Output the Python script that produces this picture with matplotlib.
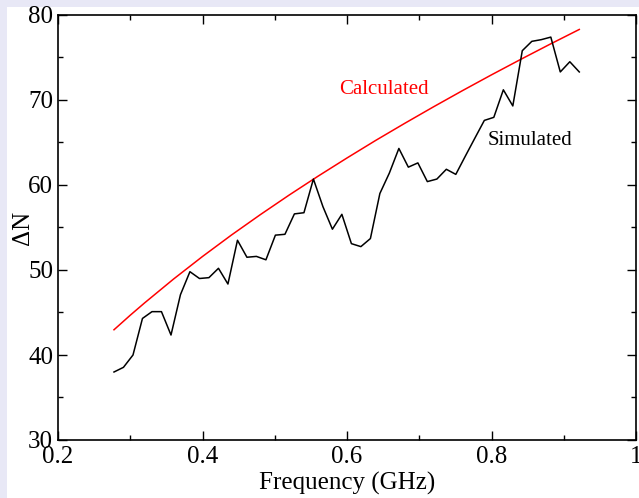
import matplotlib
matplotlib.use("Agg")
import matplotlib.pyplot as plt
from matplotlib.patches import Rectangle
from matplotlib.ticker import MultipleLocator

sim_freq = [0.2775, 0.2906, 0.3038, 0.3169, 0.3301, 0.3432, 0.3564, 0.3695, 0.3826, 0.3958,
            0.4089, 0.4221, 0.4352, 0.4484, 0.4615, 0.4746, 0.4878, 0.5009, 0.5141, 0.5272,
            0.5404, 0.5535, 0.5667, 0.5798, 0.5929, 0.6061, 0.6192, 0.6324, 0.6455, 0.6586,
            0.6718, 0.6849, 0.6981, 0.7112, 0.7244, 0.7375, 0.7506, 0.7638, 0.7769, 0.7901,
            0.8032, 0.8164, 0.8295, 0.8426, 0.8558, 0.8689, 0.8821, 0.8952, 0.9084, 0.9215]
sim_dn = [38.0, 38.55, 40.0, 44.3, 45.1, 45.1, 42.35, 47.1, 49.8, 49.0,
          49.1, 50.2, 48.35, 53.5, 51.5, 51.6, 51.2, 54.1, 54.2, 56.6,
          56.74, 60.7, 57.45, 54.8, 56.55, 53.1, 52.75, 53.7, 59.0, 61.4,
          64.3, 62.1, 62.6, 60.4, 60.7, 61.85, 61.25, 63.4, 65.5, 67.6,
          67.96, 71.2, 69.3, 75.8, 76.9, 77.1, 77.4, 73.3, 74.5, 73.3]

calc_freq = [0.2775, 0.30, 0.32, 0.36, 0.40, 0.44, 0.48, 0.52, 0.56, 0.60,
             0.64, 0.68, 0.72, 0.76, 0.80, 0.84, 0.88, 0.9215]
calc_dn = [42.97, 44.68, 46.14, 48.94, 51.59, 54.11, 56.51, 58.82, 61.04, 63.18,
           65.26, 67.26, 69.21, 71.11, 72.96, 74.76, 76.52, 78.30]

x_ticks = [0.2, 0.4, 0.6, 0.8, 1.0]
x_tick_labels = ["0.2", "0.4", "0.6", "0.8", "1"]
y_ticks = [30, 40, 50, 60, 70, 80]

plt.rcParams['font.family'] = ['Liberation Serif', 'DejaVu Serif']

fig = plt.figure(figsize=(6.39, 4.98), dpi=100)
fig.patch.set_facecolor('#e8e8f6')
fig.patches.append(Rectangle((7 / 639, 0), 1, 1 - 7 / 498, transform=fig.transFigure,
                             facecolor='white', edgecolor='none', zorder=-10))

ax = fig.add_axes([58 / 639, 1 - 440 / 498, 578 / 639, 425 / 498])
ax.set_facecolor('white')

ax.plot(calc_freq, calc_dn, color='#ff0000', lw=1.1)
ax.plot(sim_freq, sim_dn, color='black', lw=1.1)

ax.set_xlim(0.2, 1.0)
ax.set_ylim(30, 80)
ax.set_xticks(x_ticks)
ax.set_xticklabels(x_tick_labels)
ax.set_yticks(y_ticks)
ax.xaxis.set_minor_locator(MultipleLocator(0.1))
ax.yaxis.set_minor_locator(MultipleLocator(5))
ax.tick_params(which='both', direction='in', top=True, right=True, labelsize=18, width=1.0)
ax.tick_params(which='major', length=6.5)
ax.tick_params(which='minor', length=3.6)
ax.tick_params(axis='y', pad=3.5)
ax.tick_params(axis='x', pad=4)
for s in ax.spines.values():
    s.set_linewidth(1.2)

ax.set_xlabel("Frequency (GHz)", fontsize=18, labelpad=3)
ax.set_ylabel("ΔN", fontsize=18)
ax.yaxis.set_label_coords(-0.042, 0.5)

ax.text(0.651, 71.2, "Calculated", color='#ff0000', fontsize=15, ha='center', va='center')
ax.text(0.853, 65.2, "Simulated", color='black', fontsize=15, ha='center', va='center')

fig.savefig("out.png", dpi=100, facecolor=fig.get_facecolor())
